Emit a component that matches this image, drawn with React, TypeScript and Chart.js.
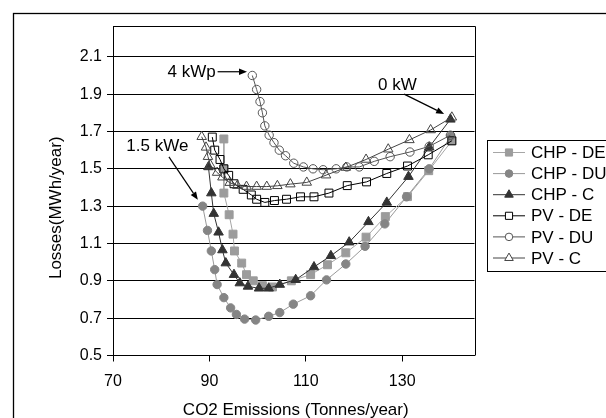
import { useEffect, useRef } from "react";
import { Chart, registerables } from "chart.js";
Chart.register(...registerables);

const seriesNames = ["CHP - DE", "CHP - DU", "CHP - C", "PV - DE", "PV - DU", "PV - C"];

const chpDeX = [93.0, 93.0, 93.0, 94.1, 94.9, 95.2, 96.7, 97.7, 99.1, 101.0, 103.1, 107.0, 111.0, 114.5, 118.3, 122.5, 126.5, 131.1, 135.5, 140.3];
const chpDeY = [1.66, 1.50, 1.37, 1.254, 1.15, 1.06, 0.995, 0.933, 0.90, 0.874, 0.867, 0.90, 0.933, 0.986, 1.05, 1.134, 1.244, 1.351, 1.49, 1.65];

const chpDuX = [88.6, 89.6, 90.4, 91.1, 91.6, 93.0, 94.4, 95.6, 97.3, 99.6, 102.3, 104.6, 107.4, 111.0, 114.3, 118.3, 122.3, 126.4, 130.9, 135.6, 140.1];
const chpDuY = [1.30, 1.17, 1.06, 0.96, 0.88, 0.81, 0.755, 0.72, 0.695, 0.69, 0.71, 0.73, 0.775, 0.82, 0.905, 0.99, 1.085, 1.205, 1.35, 1.50, 1.675];

const chpCX = [89.8, 90.4, 90.9, 91.9, 92.7, 93.4, 95.1, 96.3, 98.0, 100.3, 102.3, 104.6, 107.9, 111.7, 115.2, 119.0, 123.0, 126.8, 131.3, 135.6, 140.0];
const chpCY = [1.51, 1.37, 1.26, 1.16, 1.065, 0.995, 0.933, 0.888, 0.87, 0.86, 0.86, 0.88, 0.906, 0.974, 1.034, 1.107, 1.216, 1.32, 1.458, 1.616, 1.765];

const pvDeX = [90.6, 91.1, 92.2, 93.0, 94.0, 95.1, 97.0, 98.7, 99.8, 101.5, 103.5, 106.0, 108.9, 111.7, 114.8, 118.6, 122.6, 126.8, 131.1, 135.4, 140.3];
const pvDeY = [1.67, 1.60, 1.55, 1.50, 1.465, 1.42, 1.39, 1.36, 1.337, 1.32, 1.33, 1.337, 1.35, 1.35, 1.37, 1.41, 1.43, 1.475, 1.515, 1.575, 1.65];

const pvDuX = [98.9, 99.8, 100.5, 101.0, 101.5, 102.4, 103.4, 104.5, 105.8, 107.5, 109.5, 111.5, 113.6, 116.3, 118.5, 121.1, 124.2, 127.5, 131.6, 135.6, 140.0];
const pvDuY = [2.00, 1.925, 1.86, 1.80, 1.73, 1.68, 1.64, 1.60, 1.57, 1.53, 1.51, 1.50, 1.495, 1.50, 1.51, 1.51, 1.54, 1.565, 1.59, 1.62, 1.68];

const pvCX = [88.4, 89.3, 89.7, 90.2, 91.6, 92.7, 94.2, 95.8, 97.7, 99.8, 101.9, 104.1, 106.8, 110.2, 114.2, 118.3, 122.5, 127.1, 131.5, 135.9, 140.3];
const pvCY = [1.672, 1.615, 1.565, 1.52, 1.48, 1.455, 1.426, 1.41, 1.405, 1.405, 1.405, 1.409, 1.418, 1.427, 1.466, 1.507, 1.55, 1.605, 1.655, 1.708, 1.776];

const xTicks = [70, 90, 110, 130];
const yTicks = [0.5, 0.7, 0.9, 1.1, 1.3, 1.5, 1.7, 1.9, 2.1];

const xTitle = "CO2 Emissions (Tonnes/year)";
const yTitle = "Losses(MWh/year)";

// annotation labels with arrows, in data coordinates
const noteTexts = ["4 kWp", "1.5 kWe", "0 kW"];
const noteTextX = [86.3, 79.2, 129.0];
const noteTextY = [2.018, 1.622, 1.949];
const noteFromX = [91.7, 81.6, 130.4];
const noteFromY = [2.02, 1.564, 1.90];
const noteToX = [97.8, 87.6, 138.7];
const noteToY = [2.02, 1.334, 1.794];

const FONT = "'Liberation Sans', Arial, sans-serif";

type Style = { shape: string; fill: string; stroke: string; line: string; r: number };
const styles: Style[] = [
  { shape: "rect", fill: "#9c9c9c", stroke: "#9c9c9c", line: "#a6a6a6", r: 5.6 },
  { shape: "circle", fill: "#858585", stroke: "#858585", line: "#999999", r: 4.2 },
  { shape: "triangle", fill: "#333333", stroke: "#333333", line: "#333333", r: 5.5 },
  { shape: "rect", fill: "rgba(255,255,255,0)", stroke: "#000000", line: "#000000", r: 5.6 },
  { shape: "circle", fill: "rgba(255,255,255,0)", stroke: "#555555", line: "#555555", r: 4.2 },
  { shape: "triangle", fill: "rgba(255,255,255,0)", stroke: "#444444", line: "#444444", r: 5.5 },
];

function pts(xs: number[], ys: number[]) {
  return xs.map((x, i) => ({ x, y: ys[i] }));
}

function drawMarker(ctx: CanvasRenderingContext2D, shape: string, x: number, y: number, r: number, fill: string, stroke: string) {
  ctx.beginPath();
  if (shape === "circle") {
    ctx.arc(x, y, r, 0, Math.PI * 2);
  } else if (shape === "rect") {
    const s = Math.SQRT1_2 * r;
    ctx.rect(x - s, y - s, 2 * s, 2 * s);
  } else {
    ctx.moveTo(x, y - r);
    ctx.lineTo(x + r * Math.sin(Math.PI / 3), y + r / 2);
    ctx.lineTo(x - r * Math.sin(Math.PI / 3), y + r / 2);
    ctx.closePath();
  }
  ctx.fillStyle = fill;
  ctx.fill();
  ctx.strokeStyle = stroke;
  ctx.lineWidth = 1;
  ctx.stroke();
}

function arrow(ctx: CanvasRenderingContext2D, x1: number, y1: number, x2: number, y2: number) {
  ctx.save();
  ctx.strokeStyle = "#000";
  ctx.fillStyle = "#000";
  ctx.lineWidth = 1.2;
  const a = Math.atan2(y2 - y1, x2 - x1);
  const h = 8;
  const w = 3.2;
  ctx.beginPath();
  ctx.moveTo(x1, y1);
  ctx.lineTo(x2 - h * Math.cos(a), y2 - h * Math.sin(a));
  ctx.stroke();
  ctx.beginPath();
  ctx.moveTo(x2, y2);
  ctx.lineTo(x2 - h * Math.cos(a) + w * Math.sin(a), y2 - h * Math.sin(a) - w * Math.cos(a));
  ctx.lineTo(x2 - h * Math.cos(a) - w * Math.sin(a), y2 - h * Math.sin(a) + w * Math.cos(a));
  ctx.closePath();
  ctx.fill();
  ctx.restore();
}

const decor = {
  id: "decor",
  afterDraw(chart: any) {
    const ctx: CanvasRenderingContext2D = chart.ctx;
    const { left, right, top, bottom } = chart.chartArea;
    const xs = chart.scales.x;
    const ys = chart.scales.y;
    ctx.save();
    // plot box top & right
    ctx.strokeStyle = "#000";
    ctx.lineWidth = 1;
    ctx.beginPath();
    ctx.moveTo(left, Math.round(top) + 0.5);
    ctx.lineTo(Math.round(right) + 0.5, Math.round(top) + 0.5);
    ctx.lineTo(Math.round(right) + 0.5, bottom);
    ctx.stroke();
    // outer frame
    ctx.lineWidth = 1.3;
    ctx.strokeRect(13.5, 13.5, 800, 600);

    // axis titles
    ctx.fillStyle = "#000";
    ctx.font = `17px ${FONT}`;
    ctx.textAlign = "center";
    ctx.textBaseline = "middle";
    ctx.fillText(xTitle, (left + right) / 2 + 2, 410);
    ctx.save();
    ctx.translate(56, (top + bottom) / 2 + 17);
    ctx.rotate(-Math.PI / 2);
    ctx.fillText(yTitle, 0, 0);
    ctx.restore();

    // annotations
    ctx.font = `17px ${FONT}`;
    for (let i = 0; i < noteTexts.length; i++) {
      ctx.fillText(noteTexts[i], xs.getPixelForValue(noteTextX[i]), ys.getPixelForValue(noteTextY[i]));
      arrow(
        ctx,
        xs.getPixelForValue(noteFromX[i]),
        ys.getPixelForValue(noteFromY[i]),
        xs.getPixelForValue(noteToX[i]),
        ys.getPixelForValue(noteToY[i])
      );
    }

    // legend
    const lx = 487.5;
    const ly = 140.5;
    ctx.lineWidth = 1;
    ctx.strokeStyle = "#000";
    ctx.fillStyle = "#fff";
    ctx.fillRect(lx, ly, 200, 131);
    ctx.strokeRect(lx, ly, 200, 131);
    ctx.font = `17px ${FONT}`;
    ctx.textAlign = "left";
    for (let i = 0; i < seriesNames.length; i++) {
      const cy = 152.5 + i * 21.1;
      const st = styles[i];
      ctx.strokeStyle = st.line;
      ctx.lineWidth = 1;
      ctx.beginPath();
      ctx.moveTo(493, cy);
      ctx.lineTo(525, cy);
      ctx.stroke();
      drawMarker(ctx, st.shape, 509, cy, st.r * 0.9, st.fill === "rgba(255,255,255,0)" ? "#fff" : st.fill, st.stroke);
      ctx.fillStyle = "#000";
      ctx.fillText(seriesNames[i], 531, cy + 1);
    }
    ctx.restore();
  },
};

export default function App() {
  const ref = useRef<HTMLCanvasElement>(null);
  useEffect(() => {
    document.body.style.margin = "0";
    const allX = [chpDeX, chpDuX, chpCX, pvDeX, pvDuX, pvCX];
    const allY = [chpDeY, chpDuY, chpCY, pvDeY, pvDuY, pvCY];
    const datasets = seriesNames.map((name, i) => {
      const st = styles[i];
      return {
        label: name,
        data: pts(allX[i], allY[i]),
        showLine: true,
        borderColor: st.line,
        borderWidth: 1,
        pointStyle: st.shape,
        pointRadius: st.r,
        pointBackgroundColor: st.fill,
        pointBorderColor: st.stroke,
        pointBorderWidth: 1,
        order: 6 - i,
        tension: 0,
      };
    });
    const chart = new Chart(ref.current!, {
      type: "scatter",
      data: { datasets } as any,
      plugins: [decor],
      options: {
        responsive: false,
        animation: false,
        devicePixelRatio: 1,
        layout: { padding: { left: 0, top: 26, right: 131.5, bottom: 0 } },
        plugins: { legend: { display: false }, tooltip: { enabled: false } },
        scales: {
          x: {
            type: "linear",
            min: 70,
            max: 145,
            afterBuildTicks: (s: any) => {
              s.ticks = xTicks.map((v) => ({ value: v }));
            },
            afterFit: (s: any) => {
              s.height = 62.5;
            },
            grid: { display: true, drawOnChartArea: false, drawTicks: true, tickLength: 6, color: "#000", tickColor: "#000" },
            border: { display: true, color: "#000", width: 1 },
            ticks: { font: { family: FONT, size: 16 }, color: "#000", padding: 10, maxRotation: 0, autoSkip: false },
          },
          y: {
            type: "linear",
            min: 0.5,
            max: 2.265,
            afterBuildTicks: (s: any) => {
              s.ticks = yTicks.map((v) => ({ value: v }));
            },
            afterFit: (s: any) => {
              s.width = 113;
            },
            grid: { display: true, drawTicks: true, tickLength: 6, color: "#000", tickColor: "#000", lineWidth: 1 },
            border: { display: true, color: "#000", width: 1 },
            ticks: {
              font: { family: FONT, size: 16 },
              color: "#000",
              padding: 5,
              autoSkip: false,
              callback: (v: any) => Number(v).toFixed(1),
            },
          },
        },
      } as any,
    });
    return () => chart.destroy();
  }, []);
  return (
    <div style={{ position: "absolute", left: 0, top: 0, width: 606, height: 418 }}>
      <canvas ref={ref} width={606} height={418} />
    </div>
  );
}
